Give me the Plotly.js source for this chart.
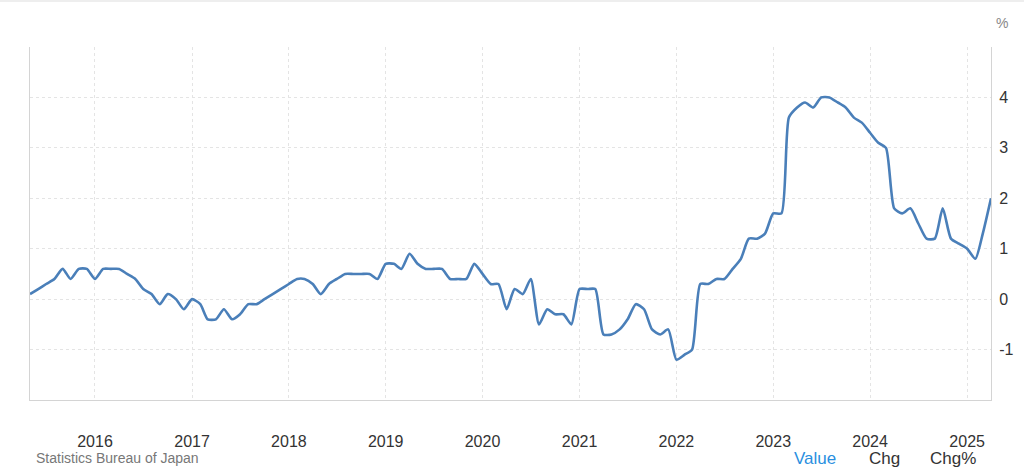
<!DOCTYPE html>
<html>
<head>
<meta charset="utf-8">
<script src="https://cdn.plot.ly/plotly-3.0.1.min.js"></script>
<style>
  html, body { margin: 0; padding: 0; background: #fff; }
  #chart { width: 1024px; height: 475px; }
</style>
</head>
<body>
<div id="chart"></div>
<script>
// Monthly values, May 2015 .. April 2025 (%)
const startYear = 2015;
const startMonth = 5;
const values = [
  0.1, 0.2, 0.3, 0.4, 0.6, 0.4, 0.6, 0.6,                       // 2015 May-Dec
  0.4, 0.6, 0.6, 0.6, 0.5, 0.4, 0.2, 0.1, -0.1, 0.1, 0.0, -0.2,  // 2016
  0.0, -0.1, -0.4, -0.4, -0.2, -0.4, -0.3, -0.1, -0.1, 0.0, 0.1, 0.2, // 2017
  0.3, 0.4, 0.4, 0.3, 0.1, 0.3, 0.4, 0.5, 0.5, 0.5, 0.5, 0.4,    // 2018
  0.7, 0.7, 0.6, 0.9, 0.7, 0.6, 0.6, 0.6, 0.4, 0.4, 0.4, 0.7,    // 2019
  0.5, 0.3, 0.3, -0.2, 0.2, 0.1, 0.4, -0.5, -0.2, -0.3, -0.3, -0.5, // 2020
  0.2, 0.2, 0.2, -0.7, -0.7, -0.6, -0.4, -0.1, -0.2, -0.6, -0.7, -0.6, // 2021
  -1.2, -1.1, -1.0, 0.3, 0.3, 0.4, 0.4, 0.6, 0.8, 1.2, 1.2, 1.3, // 2022
  1.7, 1.7, 3.6, 3.8, 3.9, 3.8, 4.0, 4.0, 3.9, 3.8, 3.6, 3.5,    // 2023
  3.3, 3.1, 3.0, 1.8, 1.7, 1.8, 1.5, 1.2, 1.2, 1.8, 1.2, 1.1,    // 2024
  1.0, 0.8, 1.3, 2.0                                             // 2025 Jan-Apr
];
const yTickVals = [-2, -1, 0, 1, 2, 3, 4, 5];
const yTickText = ['', '-1', '0', '1', '2', '3', '4', ''];
const sourceLabel = 'Statistics Bureau of Japan';
const unitLabel = '%';
const toggleLabels = ['Value', 'Chg', 'Chg%'];

const dates = values.map((v, i) => {
  const m0 = (startMonth - 1) + i;
  const y = startYear + Math.floor(m0 / 12);
  const m = (m0 % 12) + 1;
  return y + '-' + String(m).padStart(2, '0') + '-01';
});

const font = 'Liberation Sans, Arial, sans-serif';

const trace = {
  x: dates,
  y: values,
  type: 'scatter',
  mode: 'lines',
  line: { color: '#4a7fb9', width: 2.6, shape: 'spline', smoothing: 0.6 },
  hoverinfo: 'x+y'
};

const layout = {
  width: 1024,
  height: 475,
  margin: { l: 30, r: 33, t: 47, b: 75 },
  paper_bgcolor: '#ffffff',
  plot_bgcolor: '#ffffff',
  showlegend: false,
  font: { family: font, color: '#333333', size: 16 },
  xaxis: {
    type: 'date',
    range: [dates[0], dates[dates.length - 1]],
    tick0: '2016-01-01',
    dtick: 'M12',
    tickformat: '%Y',
    showgrid: true,
    gridcolor: '#e4e4e4',
    griddash: 'dot',
    gridwidth: 1,
    showline: true,
    linecolor: '#d4d4d4',
    linewidth: 1,
    mirror: false,
    ticks: '',
    ticklabelstandoff: 27,
    tickfont: { family: font, size: 16, color: '#333333' },
    zeroline: false,
    fixedrange: true
  },
  yaxis: {
    side: 'right',
    range: [-2, 5],
    tickvals: yTickVals,
    ticktext: yTickText,
    showgrid: true,
    gridcolor: '#e4e4e4',
    griddash: 'dot',
    gridwidth: 1,
    showline: true,
    linecolor: '#d4d4d4',
    linewidth: 1,
    mirror: true,
    ticks: '',
    ticklabelstandoff: 4,
    tickfont: { family: font, size: 16, color: '#333333' },
    zeroline: false,
    fixedrange: true
  },
  shapes: [
    { type: 'line', xref: 'paper', yref: 'paper',
      x0: -30 / 961, x1: 1 + 33 / 961, y0: 1 + 46 / 353, y1: 1 + 46 / 353,
      line: { color: '#dddddd', width: 1 } }
  ],
  annotations: [
    { text: unitLabel, xref: 'paper', yref: 'paper', x: 1 + 11 / 961, y: 1 + 24 / 353,
      xanchor: 'center', yanchor: 'middle', showarrow: false,
      font: { family: font, size: 14, color: '#888888' } },
    { text: sourceLabel, xref: 'paper', yref: 'paper', x: 4 / 961, y: -58 / 353,
      xanchor: 'left', yanchor: 'middle', showarrow: false,
      font: { family: font, size: 14, color: '#777777' } },
    { text: toggleLabels[0], xref: 'paper', yref: 'paper', x: (815 - 30) / 961, y: -58 / 353,
      xanchor: 'center', yanchor: 'middle', showarrow: false,
      font: { family: font, size: 17, color: '#2a8fe0' } },
    { text: toggleLabels[1], xref: 'paper', yref: 'paper', x: (884 - 30) / 961, y: -58 / 353,
      xanchor: 'center', yanchor: 'middle', showarrow: false,
      font: { family: font, size: 17, color: '#333333' } },
    { text: toggleLabels[2], xref: 'paper', yref: 'paper', x: (953 - 30) / 961, y: -58 / 353,
      xanchor: 'center', yanchor: 'middle', showarrow: false,
      font: { family: font, size: 17, color: '#333333' } }
  ]
};

Plotly.newPlot('chart', [trace], layout, { displayModeBar: false, staticPlot: true });
</script>
</body>
</html>
